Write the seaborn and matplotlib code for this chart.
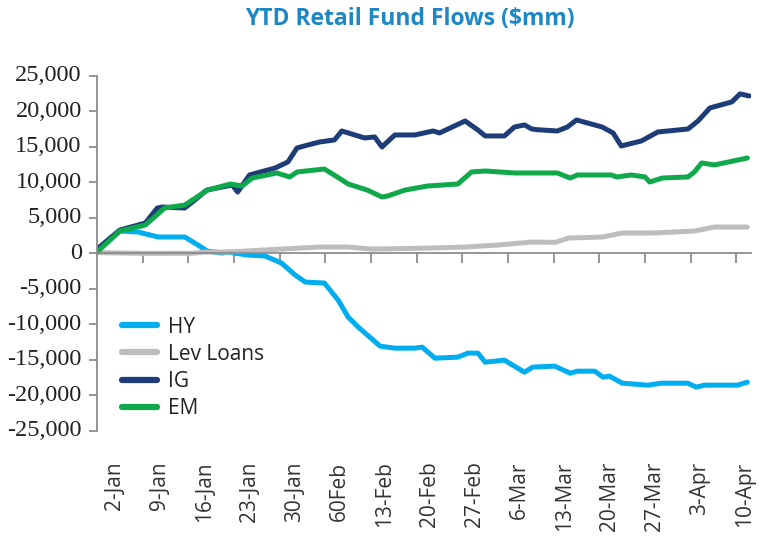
import matplotlib
matplotlib.use("Agg")
import matplotlib.pyplot as plt
import seaborn as sns
import pandas as pd

# ---- data (x = trading-day index from 2-Jan) ----
week_labels = ["2-Jan", "9-Jan", "16-Jan", "23-Jan", "30-Jan", "60Feb", "13-Feb",
               "20-Feb", "27-Feb", "6-Mar", "13-Mar", "20-Mar", "27-Mar", "3-Apr", "10-Apr"]
y_ticks = [-25000, -20000, -15000, -10000, -5000, 0, 5000, 10000, 15000, 20000, 25000]

hy_x = [0, 2.5, 4.5, 6.7, 9.6, 10.7, 12.1, 13.7, 14.3, 16.5, 18.4, 20.2, 21.7, 22.8, 24.9,
        26.4, 27.5, 28.6, 31.0, 32.6, 34.8, 35.6, 37.0, 39.5, 40.6, 41.7, 42.5, 44.6, 46.8,
        47.7, 50.1, 51.8, 52.6, 54.5, 55.4, 56.1, 57.5, 60.3, 61.8, 64.7, 65.6, 66.5, 70.1, 71.2]
hy_y = [400, 3140, 3000, 2300, 2300, 1450, 320, 40, 180, -240, -380, -1370, -3060, -4040, -4180,
        -6580, -8970, -10380, -13060, -13340, -13340, -13200, -14750, -14610, -14040, -14040,
        -15310, -15030, -16720, -16010, -15870, -16860, -16580, -16580, -17420, -17280, -18270,
        -18550, -18270, -18270, -18830, -18550, -18550, -18130]

lev_x = [0, 5.0, 10.3, 11.8, 14.3, 18.1, 24.4, 27.5, 30.1, 36.7, 40.3, 43.9, 47.6, 50.2,
         51.6, 55.3, 57.5, 60.8, 65.4, 67.6, 71.2]
lev_y = [100, 0, 0, 180, 180, 460, 890, 890, 600, 750, 890, 1170, 1590, 1550,
         2150, 2300, 2860, 2860, 3140, 3700, 3700]

ig_x = [0, 2.5, 5.3, 6.6, 7.2, 9.6, 10.7, 12.0, 14.8, 15.4, 16.7, 19.5, 20.9, 21.9, 23.1,
        24.4, 26.0, 26.8, 29.3, 30.4, 31.2, 32.6, 34.8, 36.8, 37.5, 40.3, 41.7, 42.5, 44.6,
        45.7, 46.8, 47.6, 48.2, 50.4, 51.5, 52.5, 55.3, 56.5, 57.4, 59.6, 61.4, 64.7, 65.8,
        67.1, 69.5, 70.4, 71.4]
ig_y = [600, 3280, 4270, 6380, 6520, 6380, 7500, 8900, 9620, 8630, 11030, 12010, 12860, 14830,
        15250, 15680, 15960, 17220, 16240, 16380, 14970, 16660, 16660, 17220, 16940, 18630,
        17360, 16520, 16520, 17780, 18070, 17500, 17400, 17220, 17780, 18770, 17780, 16940,
        15110, 15820, 17080, 17500, 18630, 20460, 21310, 22440, 22150]

em_x = [0, 2.5, 5.3, 7.4, 9.6, 12.1, 14.6, 15.9, 17.0, 19.7, 21.1, 21.9, 24.9, 26.3, 27.5,
        29.6, 31.2, 31.8, 33.7, 36.2, 39.5, 41.0, 42.5, 45.7, 50.4, 51.8, 52.6, 56.3, 56.9,
        58.5, 60.0, 60.5, 61.9, 64.7, 65.4, 66.2, 67.6, 71.2]
em_y = [180, 3140, 3990, 6380, 6800, 8900, 9760, 9480, 10600, 11310, 10750, 11450, 11870,
        10750, 9760, 8900, 7930, 8070, 8900, 9480, 9760, 11450, 11590, 11310, 11310, 10600,
        11030, 11030, 10750, 11030, 10750, 10040, 10600, 10750, 11450, 12720, 12440, 13420]

series_names = ["HY", "Lev Loans", "IG", "EM"]
series_colors = ["#00AEEF", "#BDBDBD", "#1D3C78", "#0FA94B"]

frames = []
for name, xs, ys in zip(series_names, [hy_x, lev_x, ig_x, em_x], [hy_y, lev_y, ig_y, em_y]):
    frames.append(pd.DataFrame({"day": xs, "value": ys, "series": name}))
df = pd.concat(frames, ignore_index=True)

sns.set_theme(style="white")
plt.rcParams["font.family"] = ["DejaVu Sans"]
plt.rcParams["font.serif"] = ["Liberation Serif", "DejaVu Serif"]

fig = plt.figure(figsize=(7.59, 5.44), dpi=100)
ax = fig.add_axes([97 / 759, 1 - 431 / 544, (751 - 97) / 759, (431 - 75.7) / 544])

sns.lineplot(data=df, x="day", y="value", hue="series", hue_order=series_names,
             palette=dict(zip(series_names, series_colors)), linewidth=3.6,
             estimator=None, sort=False, ax=ax)

ax.set_xlim(0, 71.6)
ax.set_ylim(-25000, 25000)
ax.set_xlabel("")
ax.set_ylabel("")

axis_col = "#8C8C8C"
for s in ["top", "right"]:
    ax.spines[s].set_visible(False)
ax.spines["bottom"].set_position(("data", 0))
ax.spines["bottom"].set_color(axis_col)
ax.spines["left"].set_color(axis_col)
ax.spines["bottom"].set_linewidth(1.3)
ax.spines["left"].set_linewidth(1.3)
ax.set_zorder(1)

ax.set_xticks([5 * i for i in range(1, 15)])
ax.tick_params(axis="x", direction="out", length=7, width=1.3, color=axis_col,
               labelbottom=False, bottom=True)

ax.set_yticks(y_ticks)
ax.set_yticklabels([])
ax.tick_params(axis="y", direction="out", length=6, width=1.3, color=axis_col, left=True)
for v in y_ticks:
    txt = ("-" if v < 0 else "") + f"{abs(v):,}"
    ax.annotate(txt, xy=(0, v), xycoords=("axes fraction", "data"),
                xytext=(-11, 0), textcoords="offset points", ha="right", va="center",
                fontsize=17.5, color="#222222", family="serif", annotation_clip=False)

sec = ax.secondary_xaxis("bottom")
sec.set_xticks([1.9 + 4.93 * i for i in range(15)])
sec.set_xticklabels(week_labels, rotation=90, fontsize=15, color="#333333",
                    family="Open Sans", va="top")
sec.tick_params(length=0, pad=22)
for s in sec.spines.values():
    s.set_visible(False)

handles, labels = ax.get_legend_handles_labels()
leg = ax.legend(handles, labels, loc="upper left", bbox_to_anchor=(0.01, 0.375),
                frameon=False, handlelength=1.65, handletextpad=0.55,
                labelspacing=0.3, prop={"family": "Open Sans", "size": 15})
for line in leg.get_lines():
    line.set_linewidth(4.5)
for t in leg.get_texts():
    t.set_color("#222222")

fig.text(0.54, 0.965, "YTD Retail Fund Flows ($mm)", ha="center", va="center",
         fontsize=16.5, fontweight="bold", color="#1E87C5", family="Open Sans")

fig.savefig("out.png", dpi=100)
